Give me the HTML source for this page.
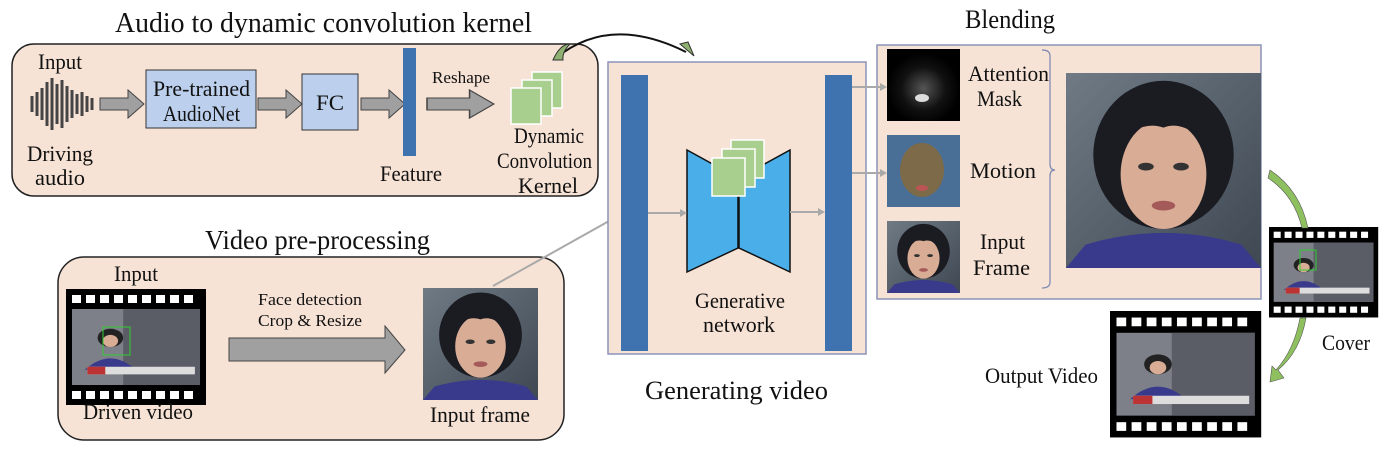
<!DOCTYPE html>
<html><head><meta charset="utf-8"><style>
html,body{margin:0;padding:0;background:#fff;}
svg{display:block;}
text{font-family:"Liberation Serif",serif;fill:#111;}
</style></head><body>
<svg width="1392" height="456" viewBox="0 0 1392 456" xmlns="http://www.w3.org/2000/svg">
<defs>
<linearGradient id="bg" x1="0" y1="0" x2="1" y2="1"><stop offset="0" stop-color="#6f7a84"/><stop offset="1" stop-color="#3f4852"/></linearGradient>
<radialGradient id="mk" cx="0.5" cy="0.55" r="0.5"><stop offset="0" stop-color="#555"/><stop offset="0.6" stop-color="#111"/><stop offset="1" stop-color="#000"/></radialGradient>
<g id="face">
 <rect x="0" y="0" width="100" height="100" fill="url(#bg)"/>
 <ellipse cx="50" cy="42" rx="36" ry="38" fill="#1b1b22"/>
 <ellipse cx="50" cy="52" rx="22" ry="28" fill="#d9ac96"/>
 <path d="M28 36 Q50 10 72 36 Q60 24 50 28 Q38 24 28 36Z" fill="#1b1b22"/>
 <ellipse cx="41" cy="48" rx="4" ry="2" fill="#333"/><ellipse cx="59" cy="48" rx="4" ry="2" fill="#333"/>
 <ellipse cx="50" cy="68" rx="6" ry="2.5" fill="#a55a5a"/>
 <path d="M0 100 L10 88 Q50 76 90 88 L100 100Z" fill="#3a3a8c"/>
</g>
<g id="news">
 <rect x="0" y="0" width="100" height="100" fill="#7d8088"/>
 <rect x="40" y="0" width="60" height="100" fill="#5b5d66"/>
 <ellipse cx="30" cy="38" rx="10" ry="12" fill="#222"/>
 <ellipse cx="30" cy="42" rx="6" ry="8" fill="#d9ac96"/>
 <path d="M10 80 Q30 50 50 80Z" fill="#3a3a8c"/>
 <rect x="12" y="76" width="84" height="10" fill="#ddd"/>
 <rect x="12" y="76" width="14" height="10" fill="#b33"/>
</g>
<g id="film">
 <rect x="0" y="0" width="140" height="116" fill="#000"/>
 <g fill="#fff">
  <rect x="6" y="6" width="9" height="8"/><rect x="20" y="6" width="9" height="8"/><rect x="34" y="6" width="9" height="8"/><rect x="48" y="6" width="9" height="8"/><rect x="62" y="6" width="9" height="8"/><rect x="76" y="6" width="9" height="8"/><rect x="90" y="6" width="9" height="8"/><rect x="104" y="6" width="9" height="8"/><rect x="118" y="6" width="9" height="8"/>
  <rect x="6" y="102" width="9" height="8"/><rect x="20" y="102" width="9" height="8"/><rect x="34" y="102" width="9" height="8"/><rect x="48" y="102" width="9" height="8"/><rect x="62" y="102" width="9" height="8"/><rect x="76" y="102" width="9" height="8"/><rect x="90" y="102" width="9" height="8"/><rect x="104" y="102" width="9" height="8"/><rect x="118" y="102" width="9" height="8"/>
 </g>
 <g transform="translate(6,20) scale(1.28,0.76)"><use href="#news"/></g>
</g>
<g id="garrow"><path d="M0 -6 H28 V-14 L44 0 L28 14 V6 H0Z" fill="#a0a0a0" stroke="#444" stroke-width="1"/></g>
</defs>

<!-- Audio section -->
<text x="115" y="32" font-size="29" textLength="417" lengthAdjust="spacingAndGlyphs">Audio to dynamic convolution kernel</text>
<rect x="12" y="44" width="586" height="152" rx="22" fill="#f7e3d6" stroke="#222" stroke-width="1.5"/>
<text x="38" y="69" font-size="22" textLength="44" lengthAdjust="spacingAndGlyphs">Input</text>
<g stroke="#444" stroke-width="3">
 <line x1="32" y1="96" x2="32" y2="112"/><line x1="37" y1="92" x2="37" y2="116"/><line x1="42" y1="88" x2="42" y2="120"/><line x1="47" y1="82" x2="47" y2="126"/><line x1="52" y1="78" x2="52" y2="130"/><line x1="57" y1="84" x2="57" y2="124"/><line x1="62" y1="80" x2="62" y2="128"/><line x1="67" y1="86" x2="67" y2="122"/><line x1="72" y1="90" x2="72" y2="118"/><line x1="77" y1="94" x2="77" y2="114"/><line x1="82" y1="92" x2="82" y2="116"/><line x1="87" y1="96" x2="87" y2="112"/><line x1="92" y1="98" x2="92" y2="110"/>
</g>
<text x="27" y="161" font-size="22" textLength="66" lengthAdjust="spacingAndGlyphs">Driving</text>
<text x="35" y="185" font-size="22" textLength="50" lengthAdjust="spacingAndGlyphs">audio</text>
<g transform="translate(100,104)"><use href="#garrow"/></g>
<rect x="146" y="70" width="110" height="58" fill="#bcd0ee" stroke="#333"/>
<text x="153" y="96" font-size="22" textLength="97" lengthAdjust="spacingAndGlyphs">Pre-trained</text>
<text x="163" y="121" font-size="22" textLength="77" lengthAdjust="spacingAndGlyphs">AudioNet</text>
<g transform="translate(258,104)"><use href="#garrow"/></g>
<rect x="302" y="74" width="56" height="56" fill="#bcd0ee" stroke="#333"/>
<text x="316" y="110" font-size="22" textLength="28" lengthAdjust="spacingAndGlyphs">FC</text>
<g transform="translate(361,104)"><use href="#garrow"/></g>
<rect x="403" y="48" width="13" height="108" fill="#3f73b0"/>
<text x="380" y="181" font-size="22" textLength="62" lengthAdjust="spacingAndGlyphs">Feature</text>
<text x="432" y="83" font-size="17" textLength="58" lengthAdjust="spacingAndGlyphs">Reshape</text>
<g transform="translate(427,104) scale(1.52,1)"><use href="#garrow"/></g>
<g stroke="#fff" stroke-width="1.5" fill="#a9cf8e">
 <rect x="532" y="72" width="30" height="36"/><rect x="522" y="80" width="30" height="36"/><rect x="511" y="88" width="30" height="36"/>
</g>
<text x="514" y="143" font-size="22" textLength="70" lengthAdjust="spacingAndGlyphs">Dynamic</text>
<text x="497" y="168" font-size="22" textLength="95" lengthAdjust="spacingAndGlyphs">Convolution</text>
<text x="518" y="193" font-size="22" textLength="60" lengthAdjust="spacingAndGlyphs">Kernel</text>
<path d="M556 58 Q610 14 686 52" fill="none" stroke="#111" stroke-width="2"/>
<path d="M553 60 Q560 44 570 44 Q562 52 563 60Z" fill="#8fb070" stroke="#333" stroke-width="1"/>
<path d="M680 44 L694 56 L688 42Z" fill="#8fb070" stroke="#333" stroke-width="1"/>

<!-- Video pre-processing -->
<text x="205" y="249" font-size="27" textLength="225" lengthAdjust="spacingAndGlyphs">Video pre-processing</text>
<rect x="58" y="257" width="506" height="183" rx="26" fill="#f7e3d6" stroke="#222" stroke-width="1.5"/>
<text x="114" y="281" font-size="22" textLength="44" lengthAdjust="spacingAndGlyphs">Input</text>
<use href="#film" transform="translate(66,289)"/>
<rect x="103" y="327" width="27" height="28" fill="none" stroke="#3c3" stroke-width="1"/>
<text x="83" y="419" font-size="22" textLength="110" lengthAdjust="spacingAndGlyphs">Driven video</text>
<text x="258" y="305" font-size="17" textLength="104" lengthAdjust="spacingAndGlyphs">Face detection</text>
<text x="258" y="326" font-size="17" textLength="104" lengthAdjust="spacingAndGlyphs">Crop &amp; Resize</text>
<path d="M229 338 H385 V326 L405 350 L385 373 V361 H229Z" fill="#a0a0a0" stroke="#444" stroke-width="1"/>
<g transform="translate(423,288) scale(1.15,1.12)"><use href="#face"/></g>
<text x="430" y="422" font-size="22" textLength="100" lengthAdjust="spacingAndGlyphs">Input frame</text>
<line x1="493" y1="286" x2="618" y2="216" stroke="#a9a9a9" stroke-width="2"/>
<path d="M618 216 L610 216 L614 223Z" fill="#a9a9a9"/>

<!-- Generating -->
<rect x="608" y="62" width="258" height="292" fill="#f7e3d6" stroke="#8a93b8" stroke-width="1.5"/>
<rect x="621" y="75" width="27" height="276" fill="#3f73b0"/>
<rect x="825" y="75" width="27" height="276" fill="#3f73b0"/>
<path d="M687 150 L738 178 L738 248 L687 272Z" fill="#4aaee8" stroke="#111" stroke-width="1.5"/>
<path d="M790 150 L739 178 L739 248 L790 272Z" fill="#4aaee8" stroke="#111" stroke-width="1.5"/>
<g stroke="#fff" stroke-width="1.5" fill="#a9cf8e">
 <rect x="731" y="140" width="33" height="38"/><rect x="722" y="149" width="33" height="38"/><rect x="712" y="158" width="33" height="38"/>
</g>
<line x1="648" y1="213" x2="684" y2="213" stroke="#a9a9a9" stroke-width="2"/><path d="M687 213 L680 209 L680 217Z" fill="#a9a9a9"/>
<line x1="790" y1="212" x2="822" y2="212" stroke="#a9a9a9" stroke-width="2"/><path d="M825 212 L818 208 L818 216Z" fill="#a9a9a9"/>
<text x="695" y="308" font-size="22" textLength="90" lengthAdjust="spacingAndGlyphs">Generative</text>
<text x="703" y="332" font-size="22" textLength="72" lengthAdjust="spacingAndGlyphs">network</text>
<text x="645" y="399" font-size="26" textLength="183" lengthAdjust="spacingAndGlyphs">Generating video</text>

<!-- Blending -->
<text x="965" y="28" font-size="26" textLength="90" lengthAdjust="spacingAndGlyphs">Blending</text>
<rect x="877" y="45" width="384" height="254" fill="#f7e3d6" stroke="#8a93b8" stroke-width="1.5"/>
<line x1="852" y1="87" x2="882" y2="87" stroke="#a9a9a9" stroke-width="2"/><path d="M887 87 L880 83 L880 91Z" fill="#a9a9a9"/>
<line x1="852" y1="173" x2="882" y2="173" stroke="#a9a9a9" stroke-width="2"/><path d="M887 173 L880 169 L880 177Z" fill="#a9a9a9"/>
<rect x="887" y="49" width="73" height="72" fill="url(#mk)"/>
<ellipse cx="922" cy="98" rx="7" ry="4" fill="#ddd"/>
<rect x="887" y="135" width="73" height="72" fill="#4a6f96"/>
<ellipse cx="922" cy="170" rx="22" ry="27" fill="#7d6a48"/>
<ellipse cx="922" cy="188" rx="6" ry="3" fill="#b55"/>
<g transform="translate(887,221) scale(0.73,0.72)"><use href="#face"/></g>
<text x="968" y="81" font-size="22" textLength="81" lengthAdjust="spacingAndGlyphs">Attention</text>
<text x="977" y="106" font-size="22" textLength="45" lengthAdjust="spacingAndGlyphs">Mask</text>
<text x="970" y="178" font-size="22" textLength="66" lengthAdjust="spacingAndGlyphs">Motion</text>
<text x="980" y="249" font-size="22" textLength="45" lengthAdjust="spacingAndGlyphs">Input</text>
<text x="973" y="275" font-size="22" textLength="57" lengthAdjust="spacingAndGlyphs">Frame</text>
<path d="M1042 50 Q1050 50 1050 56 V164 Q1050 170 1055 170 Q1050 170 1050 176 V282 Q1050 288 1042 288" fill="none" stroke="#7a86b0" stroke-width="1.2"/>
<g transform="translate(1066,73) scale(1.95,1.95)"><use href="#face"/></g>

<!-- Output films -->
<use href="#film" transform="translate(1269,227) scale(0.78,0.78)"/>
<rect x="1300" y="250" width="16" height="20" fill="none" stroke="#3c3" stroke-width="1"/>
<use href="#film" transform="translate(1110,311) scale(1.08,1.09)"/>
<text x="1322" y="350" font-size="22" textLength="48" lengthAdjust="spacingAndGlyphs">Cover</text>
<text x="985" y="383" font-size="22" textLength="113" lengthAdjust="spacingAndGlyphs">Output Video</text>
<path d="M1270 170 Q1300 190 1308 228 L1302 228 Q1294 195 1268 178Z" fill="#8fc060" stroke="#555" stroke-width="0.6"/>
<path d="M1306 318 Q1300 352 1278 370 L1284 378 L1270 382 L1272 366 L1276 370 Q1294 350 1300 318Z" fill="#8fc060" stroke="#555" stroke-width="0.6"/>
</svg>
</body></html>
